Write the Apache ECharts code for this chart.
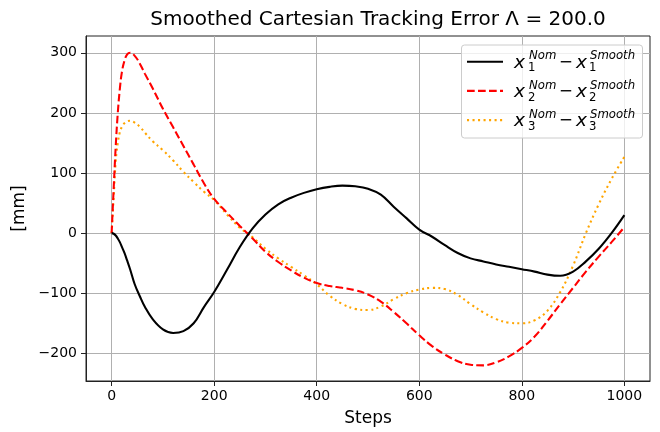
<!DOCTYPE html>
<html>
<head>
<meta charset="utf-8">
<script src="https://cdn.jsdelivr.net/npm/echarts@6/dist/echarts.min.js"></script>
<style>
html,body{margin:0;padding:0;background:#fff;}
#chart{width:660px;height:432px;}
</style>
</head>
<body>
<div id="chart"></div>
<script>
// ---- data ----
const steps = [0, 4, 8, 12, 16, 20, 25, 30, 36, 45, 55, 65, 80, 100, 120, 140, 160, 180, 200, 225, 250, 275, 300, 325, 350, 375, 400, 425, 450, 475, 500, 525, 550, 575, 600, 625, 650, 675, 700, 725, 750, 775, 800, 825, 850, 875, 900, 925, 950, 975, 1000];
const x1Err = [0, -1, -4, -9, -15, -23, -33, -45, -60, -85, -105, -123, -143, -160, -166, -163, -150, -123, -98, -61, -23, 8, 31, 48, 59, 67, 73, 77, 79, 78, 74, 64, 44, 25, 6, -6, -20, -33, -42, -47, -52, -56, -60, -64, -69, -71, -64, -47, -26, 0, 30];
const x2Err = [0, 75, 145, 200, 240, 268, 287, 297, 300, 295, 282, 265, 241, 207, 176, 145, 114, 83, 57, 34, 12, -9, -31, -48, -62, -74, -83, -88, -91, -95, -102, -114, -131, -150, -170, -188, -202, -213, -219, -220, -215, -205, -191, -172, -146, -118, -91, -64, -39, -15, 10];
const x3Err = [0, 60, 120, 150, 168, 177, 183, 186, 187, 184, 177, 167, 153, 138, 121, 102, 85, 69, 55, 31, 9, -7, -26, -42, -56, -70, -85, -104, -118, -126, -128, -122, -110, -100, -94, -91, -93, -103, -118, -132, -143, -149, -150, -145, -129, -98, -54, 0, 48, 90, 127];
const xTicks = [0, 200, 400, 600, 800, 1000];
const yTicks = [-200, -100, 0, 100, 200, 300];
const seriesNames = ['x1', 'x2', 'x3'];
const legendSub = ['1', '2', '3'];
const titleText = 'Smoothed Cartesian Tracking Error \u039B = 200.0';
const xName = 'Steps';
const yName = '[mm]';

const FONT = 'DejaVu Sans';
const colors = ['#000000', '#ff0000', '#ffa500'];
const LW = 2.08;
const dashes = [null, [7.7, 3.3], [2.08, 3.43]];
const errs = [x1Err, x2Err, x3Err];

const chart = echarts.init(document.getElementById('chart'), null, {renderer: 'canvas'});

const series = errs.map((arr, i) => ({
  name: seriesNames[i],
  type: 'line',
  data: steps.map((s, j) => [s, arr[j]]),
  showSymbol: false,
  smooth: 0.4,
  z: 3 + (2 - i),
  lineStyle: {color: colors[i], width: LW, type: dashes[i] || 'solid'},
  emphasis: {disabled: true}
}));

// custom legend (matplotlib style with math text)
const lg = [];
const bx = 461.5, by = 45, bw = 181, bh = 93;
lg.push({type: 'rect', shape: {x: bx, y: by, width: bw, height: bh, r: 3},
  style: {fill: 'rgba(255,255,255,0.8)', stroke: '#cccccc', lineWidth: 1}, z: 100});
for (let r = 0; r < 3; r++) {
  const cy = 61.7 + r * 29.2;
  lg.push({type: 'line', shape: {x1: 467, y1: cy, x2: 503, y2: cy},
    style: {stroke: colors[r], lineWidth: LW, lineDash: dashes[r] || null}, z: 101});
  const big = 18.5, small = 11.7;
  const t = (x, y, text, size, italic) => ({type: 'text', x: x, y: y, z: 101,
    style: {text: text, fill: '#000', font: (italic ? 'italic ' : '') + size + 'px "' + FONT + '"',
      textAlign: 'left', textVerticalAlign: 'middle', verticalAlign: 'middle'}});
  lg.push(t(514, cy + 1.3, 'x', big, true));
  lg.push(t(529, cy - 5.3, 'Nom', small, true));
  lg.push(t(528, cy + 6.7, legendSub[r], small, false));
  lg.push(t(559, cy + 0.8, '\u2212', 16.7, false));
  lg.push(t(576, cy + 1.3, 'x', big, true));
  lg.push(t(590, cy - 5.3, 'Smooth', small, true));
  lg.push(t(589, cy + 6.7, legendSub[r], small, false));
}

const option = {
  animation: false,
  backgroundColor: '#ffffff',
  textStyle: {fontFamily: FONT},
  title: {
    text: titleText,
    left: 378, top: 10, textAlign: 'center', padding: 0,
    textStyle: {fontFamily: FONT, fontSize: 20, fontWeight: 'normal', color: '#000'}
  },
  grid: {left: 86, right: 10, top: 36, bottom: 50.5, show: true, borderColor: '#222', borderWidth: 1, backgroundColor: 'transparent'},
  xAxis: {
    type: 'value', min: -50, max: 1050,
    name: xName, nameLocation: 'middle', nameGap: 29,
    nameTextStyle: {fontFamily: FONT, fontSize: 17, color: '#000'},
    axisLine: {show: true, onZero: false, lineStyle: {color: '#222', width: 1}},
    axisTick: {show: true, length: 5, customValues: xTicks, lineStyle: {color: '#222', width: 1}},
    axisLabel: {customValues: xTicks, margin: 8, fontFamily: FONT, fontSize: 14, color: '#000',
      formatter: v => String(v)},
    splitLine: {show: true, lineStyle: {color: '#b0b0b0', width: 1}}
  },
  yAxis: {
    type: 'value', min: -246, max: 328,
    name: yName, nameLocation: 'middle', nameGap: 48,
    nameTextStyle: {fontFamily: FONT, fontSize: 17, color: '#000'},
    axisLine: {show: true, onZero: false, lineStyle: {color: '#222', width: 1}},
    axisTick: {show: true, length: 5, customValues: yTicks, lineStyle: {color: '#222', width: 1}},
    axisLabel: {customValues: yTicks, margin: 9, fontFamily: FONT, fontSize: 14, color: '#000',
      formatter: v => String(v).replace('-', '\u2212')},
    splitLine: {show: true, lineStyle: {color: '#b0b0b0', width: 1}}
  },
  series: series,
  graphic: lg
};
chart.setOption(option);
</script>
</body>
</html>
